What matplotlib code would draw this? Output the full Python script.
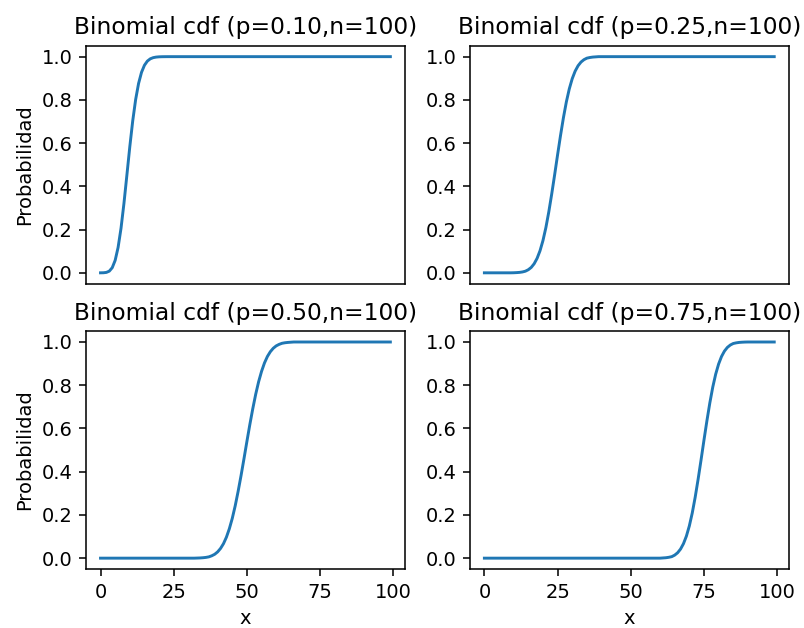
import matplotlib
matplotlib.use("Agg")
import matplotlib.pyplot as plt
import numpy as np

x = list(range(100))

cdf_p10 = [0.0000, 0.0003, 0.0019, 0.0078, 0.0237, 0.0576, 0.1172, 0.2061,
           0.3209, 0.4513, 0.5832, 0.7030, 0.8018, 0.8761, 0.9274, 0.9601,
           0.9794, 0.9900, 0.9954, 0.9980, 0.9992, 0.9997, 0.9999] + [1.0] * 77

# p = 0.25
cdf_p25 = [0.0] * 10 + [0.0003, 0.001, 0.002, 0.004, 0.0075, 0.0143, 0.025,
                        0.042, 0.067, 0.102, 0.149, 0.209, 0.282, 0.365, 0.454,
                        0.546, 0.635, 0.718, 0.791, 0.851, 0.898, 0.933, 0.958,
                        0.975, 0.986, 0.993, 0.996, 0.998, 0.999] + [1.0] * 61

# p = 0.50
cdf_p50 = [0.0] * 33 + [0.0005, 0.001, 0.002, 0.0035, 0.006, 0.011, 0.018,
                        0.029, 0.045, 0.067, 0.097, 0.136, 0.184, 0.242, 0.309,
                        0.382, 0.460, 0.540, 0.618, 0.691, 0.758, 0.816, 0.864,
                        0.903, 0.933, 0.955, 0.971, 0.982, 0.989, 0.994, 0.9965,
                        0.998, 0.999] + [1.0] * 34

# p = 0.75
cdf_p75 = [0.0] * 61 + [0.001, 0.002, 0.004, 0.007, 0.014, 0.025, 0.042,
                        0.067, 0.102, 0.149, 0.209, 0.282, 0.365, 0.454, 0.546,
                        0.635, 0.718, 0.791, 0.851, 0.898, 0.933, 0.958, 0.975,
                        0.986, 0.993, 0.996, 0.998, 0.999, 0.9997] + [1.0] * 10

titles = ["Binomial cdf (p=0.10,n=100)", "Binomial cdf (p=0.25,n=100)",
          "Binomial cdf (p=0.50,n=100)", "Binomial cdf (p=0.75,n=100)"]
series = [cdf_p10, cdf_p25, cdf_p50, cdf_p75]

DPI = 140
fig, axes = plt.subplots(2, 2, figsize=(804 / DPI, 628 / DPI), dpi=DPI)
fig.subplots_adjust(left=0.107, right=0.981, top=0.927, bottom=0.094,
                    wspace=0.204, hspace=0.2)

for i, ax in enumerate(axes.flat):
    ax.plot(x, series[i], color="#1f77b4")
    ax.set_title(titles[i])
    ax.set_yticks([0.0, 0.2, 0.4, 0.6, 0.8, 1.0])
    if i < 2:
        ax.set_xticks([])
    else:
        ax.set_xticks([0, 25, 50, 75, 100])
        ax.set_xlabel("x")
    if i % 2 == 0:
        ax.set_ylabel("Probabilidad")

fig.savefig("out.png", dpi=DPI)
